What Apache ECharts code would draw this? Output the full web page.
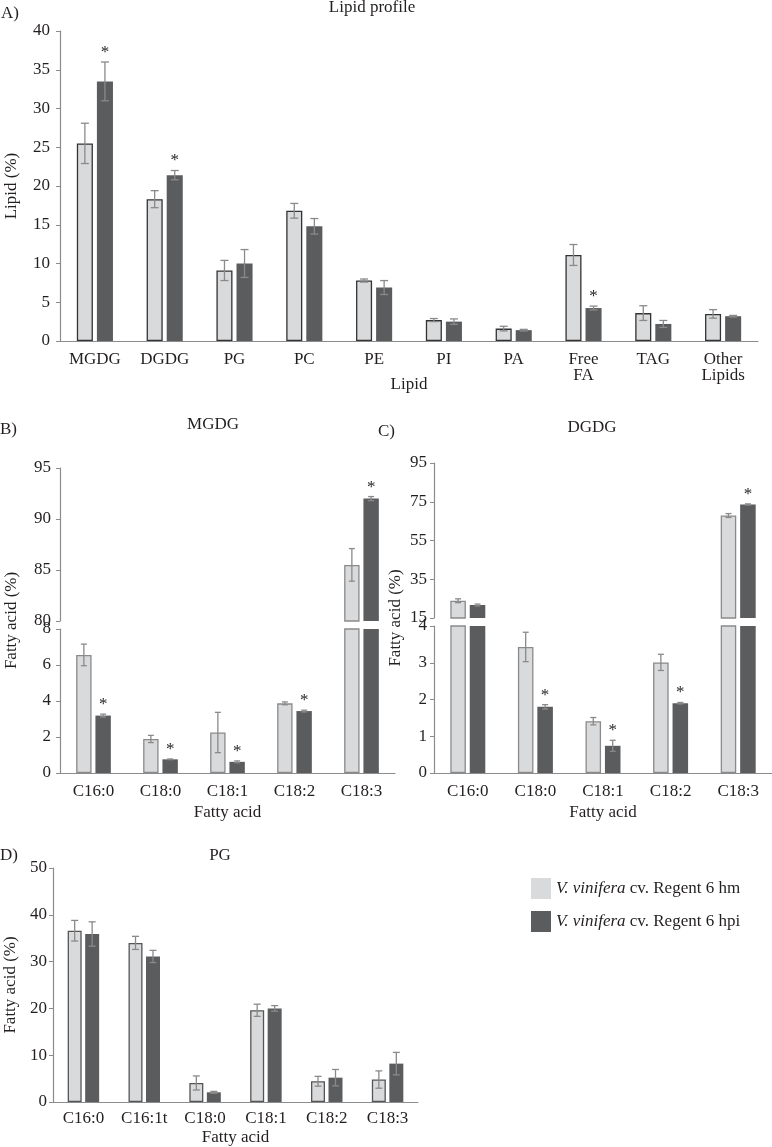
<!DOCTYPE html>
<html><head><meta charset="utf-8">
<script src="https://cdn.jsdelivr.net/npm/echarts@6/dist/echarts.min.js"></script>
<style>html,body{margin:0;padding:0;background:#fff}#c{width:772px;height:1147px}</style>
</head><body><div id="c"></div>
<script>
// ---------- DATA ----------
const lipidCats = ['MGDG','DGDG','PG','PC','PE','PI','PA','Free\nFA','TAG','Other\nLipids'];
const lipidHm = [25.5, 18.3, 9.1, 16.8, 7.8, 2.7, 1.6, 11.1, 3.6, 3.5];
const lipidHmErr = [2.6, 1.1, 1.3, 0.95, 0.2, 0.2, 0.3, 1.35, 0.95, 0.55];
const lipidHpi = [33.5, 21.4, 10.0, 14.8, 6.9, 2.5, 1.4, 4.25, 2.2, 3.2];
const lipidHpiErr = [2.5, 0.6, 1.8, 1.0, 0.9, 0.35, 0.1, 0.25, 0.45, 0.1];
const lipidSig = [1, 1, 0, 0, 0, 0, 0, 1, 0, 0];

const mgdgCats = ['C16:0','C18:0','C18:1','C18:2','C18:3'];
const mgdgHm = [6.56, 1.89, 2.25, 3.87, 85.5];
const mgdgHmErr = [0.6, 0.2, 1.12, 0.08, 1.6];
const mgdgHpi = [3.19, 0.76, 0.62, 3.44, 92.0];
const mgdgHpiErr = [0.08, 0.02, 0.05, 0.05, 0.2];
const mgdgSig = [1, 1, 1, 1, 1];

const dgdgCats = ['C16:0','C18:0','C18:1','C18:2','C18:3'];
const dgdgHm = [23.9, 3.43, 1.41, 3.01, 67.9];
const dgdgHmErr = [1.0, 0.4, 0.1, 0.22, 1.0];
const dgdgHpi = [21.7, 1.80, 0.74, 1.90, 73.6];
const dgdgHpiErr = [0.5, 0.06, 0.15, 0.02, 0.3];
const dgdgSig = [0, 1, 1, 1, 1];

const pgCats = ['C16:0','C16:1t','C18:0','C18:1','C18:2','C18:3'];
const pgHm = [36.6, 34.0, 4.07, 19.6, 4.43, 4.8];
const pgHmErr = [2.2, 1.4, 1.5, 1.3, 1.05, 1.85];
const pgHpi = [35.9, 31.1, 2.07, 20.0, 5.2, 8.2];
const pgHpiErr = [2.6, 1.3, 0.2, 0.6, 1.75, 2.4];

const seriesNames = ['V. vinifera cv. Regent 6 hm', 'V. vinifera cv. Regent 6 hpi'];

// ---------- STYLE ----------
const FONT = '"Liberation Serif", "Times New Roman", serif';
const LIGHT = '#d9dadb', DARK = '#5b5c5e', TXT = '#231f20', AX = '#8c8c8c', ERR = '#8a8a8a';
const BW = 0.23, BG = 0.25;

const grids = [
  {left:60, top:31, width:698, height:310},   // 0 A
  {left:60, top:468, width:335, height:153},  // 1 B upper
  {left:60, top:629, width:335, height:144},  // 2 B lower
  {left:434, top:463, width:338, height:155}, // 3 C upper
  {left:434, top:626, width:338, height:147}, // 4 C lower
  {left:53, top:868, width:365, height:234},  // 5 D
  {left:60, top:468, width:335, height:305},  // 6 B frame
  {left:434, top:463, width:338, height:310}  // 7 C frame
].map(g => Object.assign({outerBoundsMode:'none', containLabel:false}, g));

const nameStyle = {fontFamily:FONT, fontSize:17, color:TXT};

function xAx(gi, data, show, extra) {
  return Object.assign({
    type:'category', gridIndex:gi, data,
    axisLine:{show:show, onZero:false, lineStyle:{color:AX, width:1.2}},
    axisTick:{show:false},
    axisLabel:{show:show, color:TXT, fontFamily:FONT, fontSize:17, margin:11, interval:0, lineHeight:16},
    splitLine:{show:false},
    nameMoveOverlap:false,
    nameTextStyle:nameStyle
  }, extra || {});
}
function yAx(gi, min, max, interval, margin, extra) {
  return Object.assign({
    type:'value', gridIndex:gi, min, max, interval,
    axisLine:{show:true, lineStyle:{color:AX, width:1.2}},
    axisTick:{show:true, length:4, lineStyle:{color:AX}},
    axisLabel:{color:TXT, fontFamily:FONT, fontSize:17, margin},
    splitLine:{show:false},
    nameMoveOverlap:false,
    nameTextStyle:nameStyle
  }, extra || {});
}

function bars(gi, hm, hpi, lightBorder) {
  return [
    {type:'bar', name:seriesNames[0], xAxisIndex:gi, yAxisIndex:gi, data:hm, barWidth:(BW*100)+'%', barGap:(BG*100)+'%',
     itemStyle:{color:LIGHT, borderColor:lightBorder, borderWidth:1.3}, silent:true, animation:false, clip:true},
    {type:'bar', name:seriesNames[1], xAxisIndex:gi, yAxisIndex:gi, data:hpi, barWidth:(BW*100)+'%', barGap:(BG*100)+'%',
     itemStyle:{color:DARK}, silent:true, animation:false, clip:true}
  ];
}

function errs(gi, vals, e, sig, side, range, capW) {
  return {
    type:'custom', xAxisIndex:gi, yAxisIndex:gi, silent:true, animation:false, z:5,
    data: vals.map((v, i) => [i, v, e[i], sig ? sig[i] : 0]),
    encode:{x:0, y:1},
    renderItem: function (params, api) {
      const ci = api.value(0), v = api.value(1), er = api.value(2), s = api.value(3);
      if (v < range[0] || v > range[1]) return null;
      const band = api.size([1, 0])[0];
      const bw = band * BW, gap = bw * BG;
      const c = api.coord([ci, v]);
      const x = c[0] + side * (bw + gap) / 2;
      const top = api.coord([ci, v + er])[1];
      const bot = api.coord([ci, v - er])[1];
      const ls = {stroke:ERR, lineWidth:1.3};
      const ch = [
        {type:'line', shape:{x1:x, y1:top, x2:x, y2:bot}, style:ls},
        {type:'line', shape:{x1:x - capW/2, y1:top, x2:x + capW/2, y2:top}, style:ls},
        {type:'line', shape:{x1:x - capW/2, y1:bot, x2:x + capW/2, y2:bot}, style:ls}
      ];
      if (s) {
        ch.push({type:'text', x:x, y:top - 1,
          style:{text:'*', font:'17px "Liberation Serif"', fill:TXT, align:'center', verticalAlign:'bottom'}});
      }
      return {type:'group', children:ch};
    }
  };
}

const xAxis = [
  xAx(0, lipidCats, true, {name:'Lipid', nameLocation:'middle', nameGap:35}),
  xAx(1, mgdgCats, false),
  xAx(2, mgdgCats, true, {name:'Fatty acid', nameLocation:'middle', nameGap:31}),
  xAx(3, dgdgCats, false),
  xAx(4, dgdgCats, true, {name:'Fatty acid', nameLocation:'middle', nameGap:31}),
  xAx(5, pgCats, true, {name:'Fatty acid', nameLocation:'middle', nameGap:27, axisLabel:{show:true, color:TXT, fontFamily:FONT, fontSize:17, margin:8, interval:0}}),
  xAx(6, mgdgCats, false, {show:false}),
  xAx(7, dgdgCats, false, {show:false})
];
const hiddenY = {axisLine:{show:false}, axisTick:{show:false}, axisLabel:{show:false}, nameLocation:'middle'};
const yAxis = [
  yAx(0, 0, 40, 5, 10, {name:'Lipid (%)', nameLocation:'middle', nameGap:40}),
  yAx(1, 80, 95, 5, 9),
  yAx(2, 0, 8, 2, 9),
  yAx(3, 15, 95, 20, 7),
  yAx(4, 0, 4, 1, 7),
  yAx(5, 0, 50, 10, 6, {name:'Fatty acid (%)', nameLocation:'middle', nameGap:34}),
  yAx(6, 0, 1, 1, 0, Object.assign({name:'Fatty acid (%)', nameGap:40}, hiddenY)),
  yAx(7, 0, 1, 1, 0, Object.assign({name:'Fatty acid (%)', nameGap:30}, hiddenY))
];

const series = [].concat(
  bars(0, lipidHm, lipidHpi, '#333'),
  [errs(0, lipidHm, lipidHmErr, null, -1, [0, 40], 8), errs(0, lipidHpi, lipidHpiErr, lipidSig, 1, [0, 40], 8)],
  bars(1, mgdgHm, mgdgHpi, '#8a8a8a'),
  [errs(1, mgdgHm, mgdgHmErr, null, -1, [80, 95], 6), errs(1, mgdgHpi, mgdgHpiErr, mgdgSig, 1, [80, 95], 6)],
  bars(2, mgdgHm, mgdgHpi, '#8a8a8a'),
  [errs(2, mgdgHm, mgdgHmErr, null, -1, [0, 8], 6), errs(2, mgdgHpi, mgdgHpiErr, mgdgSig, 1, [0, 8], 6)],
  bars(3, dgdgHm, dgdgHpi, '#8a8a8a'),
  [errs(3, dgdgHm, dgdgHmErr, null, -1, [15, 95], 6), errs(3, dgdgHpi, dgdgHpiErr, dgdgSig, 1, [15, 95], 6)],
  bars(4, dgdgHm, dgdgHpi, '#8a8a8a'),
  [errs(4, dgdgHm, dgdgHmErr, null, -1, [0, 4], 6), errs(4, dgdgHpi, dgdgHpiErr, dgdgSig, 1, [0, 4], 6)],
  bars(5, pgHm, pgHpi, '#555'),
  [errs(5, pgHm, pgHmErr, null, -1, [0, 50], 7), errs(5, pgHpi, pgHpiErr, null, 1, [0, 50], 7)]
);

function txt(t, x, y, align) {
  return {type:'text', x:x, y:y, silent:true,
    style:{text:t, font:'17px "Liberation Serif"', fill:TXT, align:align || 'center', verticalAlign:'middle'}};
}

const option = {
  backgroundColor:'#fff',
  animation:false,
  grid: grids,
  xAxis, yAxis, series,
  legend:{
    data:seriesNames, orient:'vertical', left:526, top:873, itemWidth:20, itemHeight:21, itemGap:12,
    icon:'rect', selectedMode:false, itemStyle:{borderWidth:0},
    textStyle:{fontFamily:FONT, fontSize:17, color:TXT,
      rich:{i:{fontStyle:'italic', fontFamily:FONT, fontSize:17, color:TXT}, r:{fontFamily:FONT, fontSize:17, color:TXT}}},
    formatter: n => '{i|V. vinifera}{r|' + n.slice(11) + '}'
  },
  graphic: [
    txt('Lipid profile', 372, 8),
    txt('A)', 1, 14, 'left'),
    txt('B)', 0, 430, 'left'),
    txt('MGDG', 213, 425),
    txt('C)', 378, 432, 'left'),
    txt('DGDG', 592, 428),
    txt('D)', 0, 856, 'left'),
    txt('PG', 220, 856)
  ]
};
const chart = echarts.init(document.getElementById('c'), null, {renderer:'canvas'});
chart.setOption(option);
</script></body></html>
